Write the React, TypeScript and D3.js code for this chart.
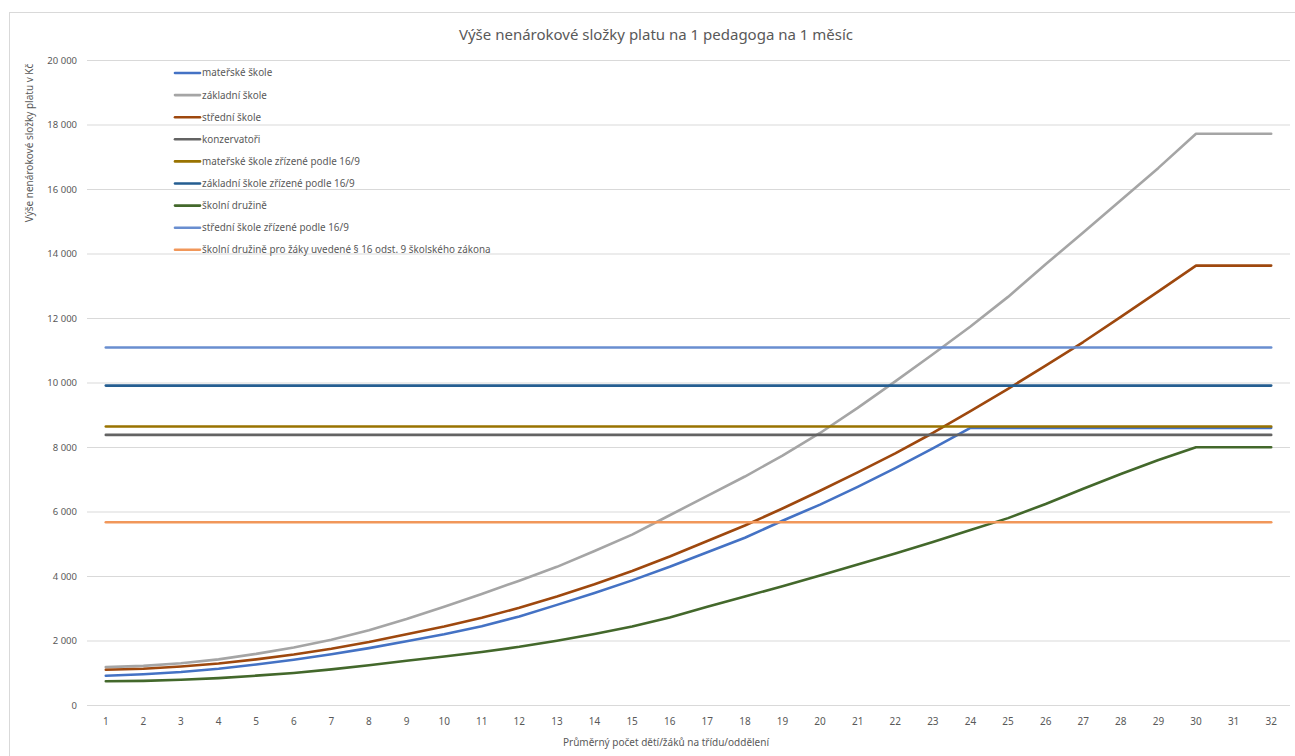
import React from 'react';
import * as d3 from 'd3';

const W = 1295;
const H = 756;

// categories: average number of pupils per class
const categories = [
  '1', '2', '3', '4', '5', '6', '7', '8', '9', '10', '11', '12', '13', '14', '15', '16',
  '17', '18', '19', '20', '21', '22', '23', '24', '25', '26', '27', '28', '29', '30', '31', '32',
];

const materskeSkole = [
  923, 970, 1040, 1140, 1270, 1420, 1590, 1780, 1990, 2210, 2460, 2760, 3120, 3490, 3880, 4300,
  4750, 5200, 5730, 6230, 6780, 7360, 7970, 8610, 8610, 8610, 8610, 8610, 8610, 8610, 8610, 8610,
];
const zakladniSkole = [
  1190, 1230, 1310, 1430, 1600, 1800, 2040, 2330, 2680, 3060, 3460, 3870, 4300, 4790, 5300, 5900,
  6500, 7100, 7750, 8450, 9230, 10050, 10890, 11750, 12670, 13680, 14670, 15670, 16670, 17730, 17730, 17730,
];
const stredniSkole = [
  1108, 1140, 1210, 1300, 1430, 1580, 1760, 1970, 2210, 2450, 2720, 3030, 3380, 3760, 4170, 4620,
  5100, 5580, 6110, 6660, 7230, 7820, 8450, 9130, 9820, 10540, 11270, 12050, 12840, 13640, 13640, 13640,
];
const konzervatori = [
  8390, 8390, 8390, 8390, 8390, 8390, 8390, 8390, 8390, 8390, 8390, 8390, 8390, 8390, 8390, 8390,
  8390, 8390, 8390, 8390, 8390, 8390, 8390, 8390, 8390, 8390, 8390, 8390, 8390, 8390, 8390, 8390,
];
const materske169 = [
  8650, 8650, 8650, 8650, 8650, 8650, 8650, 8650, 8650, 8650, 8650, 8650, 8650, 8650, 8650, 8650,
  8650, 8650, 8650, 8650, 8650, 8650, 8650, 8650, 8650, 8650, 8650, 8650, 8650, 8650, 8650, 8650,
];
const zakladni169 = [
  9920, 9920, 9920, 9920, 9920, 9920, 9920, 9920, 9920, 9920, 9920, 9920, 9920, 9920, 9920, 9920,
  9920, 9920, 9920, 9920, 9920, 9920, 9920, 9920, 9920, 9920, 9920, 9920, 9920, 9920, 9920, 9920,
];
const skolniDruzine = [
  750, 765, 800, 850, 925, 1010, 1120, 1250, 1390, 1520, 1660, 1820, 2010, 2220, 2450, 2730,
  3060, 3380, 3700, 4030, 4370, 4710, 5070, 5440, 5810, 6250, 6720, 7180, 7610, 8010, 8010, 8010,
];
const stredni169 = [
  11100, 11100, 11100, 11100, 11100, 11100, 11100, 11100, 11100, 11100, 11100, 11100, 11100, 11100, 11100, 11100,
  11100, 11100, 11100, 11100, 11100, 11100, 11100, 11100, 11100, 11100, 11100, 11100, 11100, 11100, 11100, 11100,
];
const druzinaPar16 = [
  5680, 5680, 5680, 5680, 5680, 5680, 5680, 5680, 5680, 5680, 5680, 5680, 5680, 5680, 5680, 5680,
  5680, 5680, 5680, 5680, 5680, 5680, 5680, 5680, 5680, 5680, 5680, 5680, 5680, 5680, 5680, 5680,
];

const yTicks = [0, 2000, 4000, 6000, 8000, 10000, 12000, 14000, 16000, 18000, 20000];

const series = [
  { name: 'mateřské škole', color: '#4472C4', values: materskeSkole },
  { name: 'základní škole', color: '#A5A5A5', values: zakladniSkole },
  { name: 'střední škole', color: '#9E480E', values: stredniSkole },
  { name: 'konzervatoři', color: '#636363', values: konzervatori },
  { name: 'mateřské škole zřízené podle 16/9', color: '#997300', values: materske169 },
  { name: 'základní škole zřízené podle 16/9', color: '#255E91', values: zakladni169 },
  { name: 'školní družině', color: '#43682B', values: skolniDruzine },
  { name: 'střední škole zřízené podle 16/9', color: '#698ED0', values: stredni169 },
  { name: 'školní družině pro žáky uvedené § 16 odst. 9 školského zákona', color: '#F1975A', values: druzinaPar16 },
];

const FONT = "'Noto Sans', 'Open Sans', sans-serif";
const TEXT = '#595959';

export default function App() {
  const plot = { left: 87, right: 1290, top: 60.5, bottom: 705.5 };

  const x = d3.scaleBand<string>().domain(categories).range([plot.left, plot.right]);
  const y = d3.scaleLinear().domain([0, 20000]).range([plot.bottom, plot.top]);
  const cx = (c: string) => (x(c) ?? 0) + x.bandwidth() / 2;

  const line = d3
    .line<number>()
    .x((_, i) => cx(categories[i]))
    .y((d) => y(d))
    .curve(d3.curveLinear);

  // czech thousands separator (space)
  const fmt = (v: number) => d3.format(',')(v).replace(/,/g, '\u00a0');

  return (
    <svg
      width={W}
      height={H}
      style={{ position: 'absolute', left: 0, top: 0, background: '#fff' }}
      fontFamily={FONT}
    >
      <rect x={9.5} y={12.5} width={W} height={H} fill="#fff" stroke="#d9d9d9" strokeWidth={1} />

      {/* title */}
      <text x={656} y={40} textAnchor="middle" fontSize={15} fill={TEXT}>
        Výše nenárokové složky platu na 1 pedagoga na 1 měsíc
      </text>

      {/* gridlines */}
      {yTicks.map((t) => (
        <line
          key={t}
          x1={plot.left}
          x2={plot.right}
          y1={y(t)}
          y2={y(t)}
          stroke="#d9d9d9"
          strokeWidth={1}
        />
      ))}

      {/* y labels */}
      {yTicks.map((t) => (
        <text
          key={'yl' + t}
          x={77}
          y={y(t)}
          dy="0.35em"
          textAnchor="end"
          fontSize={9.5}
          fill={TEXT}
        >
          {fmt(t)}
        </text>
      ))}

      {/* x labels */}
      {categories.map((c) => (
        <text key={'xl' + c} x={cx(c)} y={725} textAnchor="middle" fontSize={10} fill={TEXT}>
          {c}
        </text>
      ))}

      {/* axis titles */}
      <text
        transform={`translate(33, 143) rotate(-90)`}
        textAnchor="middle"
        fontSize={10}
        fill={TEXT}
      >
        Výše nenárokové složky platu v Kč
      </text>
      <text x={666} y={746} textAnchor="middle" fontSize={10} fill={TEXT}>
        Průměrný počet dětí/žáků na třídu/oddělení
      </text>

      {/* series */}
      {series.map((s) => (
        <path
          key={s.name}
          d={line(s.values) ?? ''}
          fill="none"
          stroke={s.color}
          strokeWidth={2.6}
          strokeLinejoin="round"
          strokeLinecap="round"
        />
      ))}

      {/* legend */}
      {series.map((s, i) => {
        const ly = 73 + i * 22.1;
        return (
          <g key={'lg' + s.name}>
            <line x1={175} x2={200} y1={ly} y2={ly} stroke={s.color} strokeWidth={2.6} strokeLinecap="round" />
            <text x={202} y={ly} dy="0.35em" fontSize={9.9} fill={TEXT}>
              {s.name}
            </text>
          </g>
        );
      })}
    </svg>
  );
}
